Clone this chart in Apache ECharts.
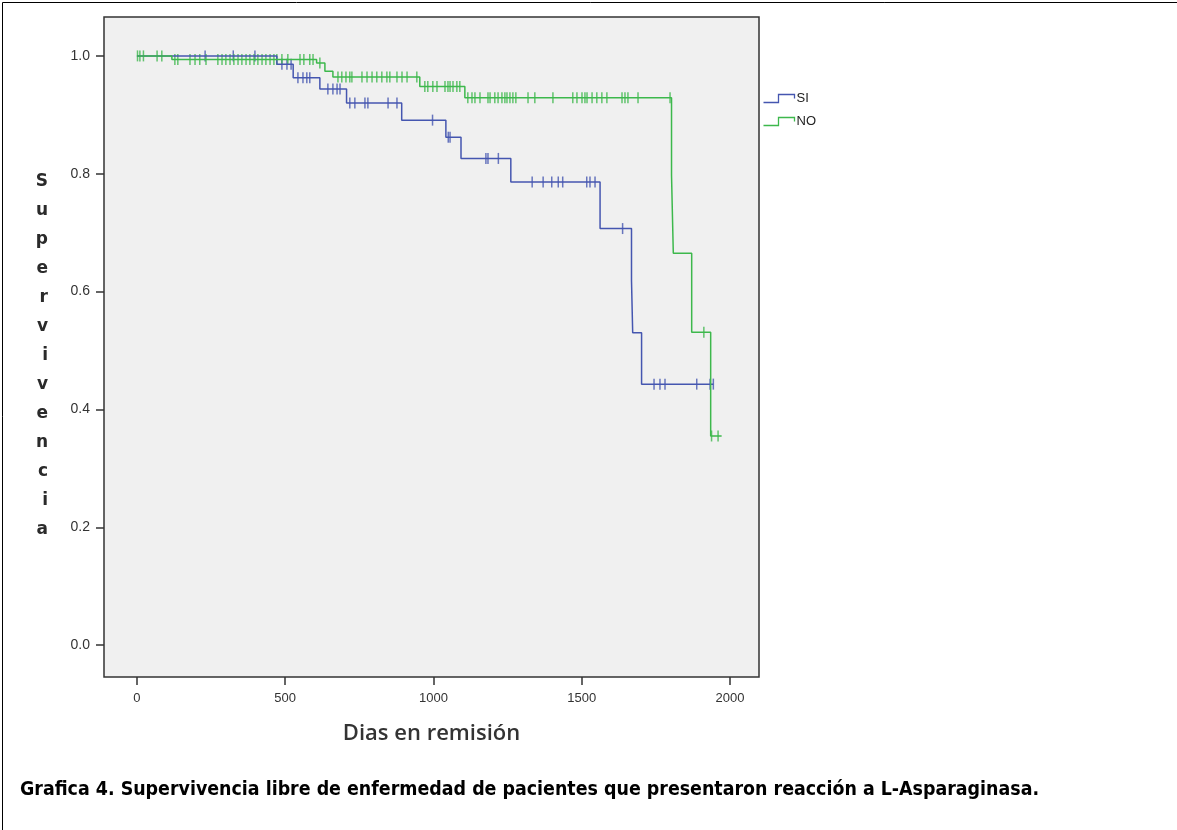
<!DOCTYPE html>
<html>
<head>
<meta charset="utf-8">
<script src="https://cdn.jsdelivr.net/npm/echarts@6/dist/echarts.min.js"></script>
<style>
  html, body { margin: 0; padding: 0; background: #fff; }
  #main { width: 1177px; height: 830px; }
</style>
</head>
<body>
<div id="main"></div>
<script>
// Kaplan-Meier: tiempos de evento y supervivencia
var siTime = [0, 472, 527, 617, 707, 893, 1042, 1093, 1261, 1562, 1668, 1672, 1702, 1944];
var siSurv = [1, 0.986, 0.963, 0.944, 0.920, 0.891, 0.862, 0.826, 0.786, 0.707, 0.619, 0.530, 0.443, 0.443];
var siCens = [230, 325, 398, 489, 506, 520, 543, 560, 573, 583, 644, 661, 675, 685, 718, 735, 769, 779, 847, 877,
  997, 1050, 1056, 1177, 1184, 1219, 1333, 1370, 1399, 1421, 1436, 1517, 1528, 1545, 1638, 1744, 1764, 1781, 1888, 1933, 1944];

var noTime = [0, 118, 606, 634, 661, 954, 1106, 1803, 1809, 1871, 1935, 1972];
var noSurv = [1, 0.994, 0.988, 0.974, 0.964, 0.948, 0.929, 0.797, 0.665, 0.531, 0.355, 0.355];
var noCens = [2, 10, 22, 68, 84, 128, 138, 179, 196, 212, 233, 273, 287, 300, 314, 327, 341, 354, 368, 381, 395, 408,
  422, 435, 449, 462, 472, 489, 509, 550, 563, 583, 594, 617, 678, 691, 705, 718, 725, 759, 776, 793, 809, 826, 843,
  853, 877, 894, 911, 944, 971, 981, 998, 1012, 1039, 1049, 1056, 1066, 1079, 1089, 1116, 1130, 1140, 1157, 1184,
  1191, 1207, 1218, 1231, 1241, 1248, 1258, 1268, 1278, 1319, 1342, 1403, 1470, 1484, 1501, 1511, 1518, 1535, 1551,
  1568, 1585, 1636, 1646, 1656, 1690, 1798, 1912, 1938, 1960];

var xTicks = [0, 500, 1000, 1500, 2000];
var yTicks = [0, 0.2, 0.4, 0.6, 0.8, 1.0];

var colorSI = '#4556b0';
var colorNO = '#3db84c';

function toPairs(t, s) {
  var out = [];
  for (var i = 0; i < t.length; i++) out.push([t[i], s[i]]);
  return out;
}
// valor de supervivencia en el tiempo t (funcion escalon)
function survAt(t, times, surv) {
  var s = surv[0];
  for (var i = 0; i < times.length; i++) {
    if (times[i] <= t) s = surv[i];
  }
  return s;
}
function censPairs(c, times, surv) {
  return c.map(function (t) { return [t, survAt(t, times, surv)]; });
}

var chart = echarts.init(document.getElementById('main'));
var option = {
  animation: false,
  backgroundColor: '#fff',
  grid: {
    left: 104, top: 17, right: 418, bottom: 153,
    show: true, backgroundColor: '#f0f0f0', borderColor: '#333', borderWidth: 1.5
  },
  legend: {
    orient: 'vertical',
    left: 756, top: 87,
    itemWidth: 31, itemHeight: 8, itemGap: 10,
    icon: 'path://M0,8 L15,8 L15,0 L31,0 L31,4',
    textStyle: { fontFamily: 'Liberation Sans, Arial', fontSize: 13, color: '#222', padding: [0, 0, 0, -3] },
    data: [
      { name: 'SI', itemStyle: { color: 'none', borderColor: colorSI, borderWidth: 1.3 } },
      { name: 'NO', itemStyle: { color: 'none', borderColor: colorNO, borderWidth: 1.3 } }
    ]
  },
  xAxis: {
    type: 'value', min: -111, max: 2098,
    name: 'Dias en remisión', nameLocation: 'middle', nameGap: 46,
    nameTextStyle: { fontFamily: 'Open Sans, DejaVu Sans Condensed', fontWeight: 600, fontSize: 22, color: '#333' },
    axisLine: { show: false, onZero: false },
    splitLine: { show: false },
    axisTick: { show: true, length: 8, customValues: xTicks, lineStyle: { color: '#333', width: 1.5 } },
    axisLabel: { customValues: xTicks, margin: 15, fontFamily: 'Liberation Sans, Arial', fontSize: 13, color: '#333',
      formatter: function (v) { return String(v); } }
  },
  yAxis: {
    type: 'value', min: -0.054, max: 1.066,
    name: '{sp| }\nS\nu\np\ne\nr\nv\ni\nv\ne\nn\nc\ni\na', nameLocation: 'middle', nameGap: 56, nameRotate: 0,
    nameTextStyle: { fontFamily: 'DejaVu Sans, Liberation Sans', fontWeight: 'bold', fontSize: 17, lineHeight: 29, color: '#2a2a2a',
      rich: { sp: { fontSize: 10, lineHeight: 18 } } },
    axisLine: { show: false, onZero: false },
    splitLine: { show: false },
    axisTick: { show: true, length: 8, customValues: yTicks, lineStyle: { color: '#333', width: 1.5 } },
    axisLabel: { customValues: yTicks, margin: 14, fontFamily: 'Liberation Sans, Arial', fontSize: 14, color: '#333',
      formatter: function (v) { return v.toFixed(1); } }
  },
  series: [
    {
      name: 'SI', type: 'line', step: 'end', data: toPairs(siTime, siSurv),
      showSymbol: false, symbol: 'none', color: colorSI,
      lineStyle: { color: colorSI, width: 1.5 }
    },
    {
      name: 'SI cens', type: 'scatter', data: censPairs(siCens, siTime, siSurv),
      symbol: 'rect', symbolSize: [1.5, 11], itemStyle: { color: colorSI }
    },
    {
      name: 'NO', type: 'line', step: 'end', data: toPairs(noTime, noSurv),
      showSymbol: false, symbol: 'none', color: colorNO,
      lineStyle: { color: colorNO, width: 1.5 }
    },
    {
      name: 'NO cens', type: 'scatter', data: censPairs(noCens, noTime, noSurv),
      symbol: 'rect', symbolSize: [1.5, 11], itemStyle: { color: colorNO }
    }
  ],
  graphic: [
    {
      type: 'rect', left: 0, top: 0, silent: true,
      shape: { x: 0.5, y: 0.5, width: 1176, height: 829 },
      style: { fill: 'none', stroke: '#000', lineWidth: 1 }
    },
    {
      type: 'text', left: 20, top: 780,
      style: {
        text: 'Grafica 4. Supervivencia libre de enfermedad de pacientes que presentaron reacción a L-Asparaginasa.',
        font: 'bold 19.4px "DejaVu Sans Condensed", sans-serif', fill: '#000'
      }
    }
  ]
};
chart.setOption(option);
</script>
</body>
</html>
